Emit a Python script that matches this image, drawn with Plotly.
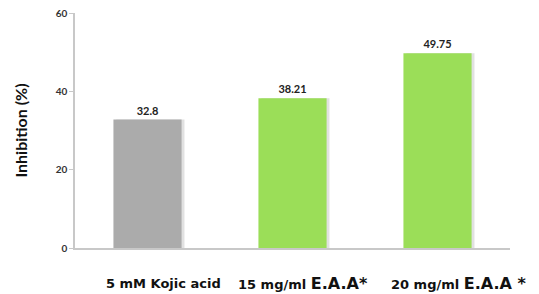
import plotly.graph_objects as go

categories = ["5 mM Kojic acid", "15 mg/ml E.A.A*", "20 mg/ml E.A.A *"]
values = [32.8, 38.21, 49.75]
value_labels = ["32.8", "38.21", "49.75"]
tick_vals = [0, 20, 40, 60]
colors = ["#ababab", "#9bde58", "#9bde58"]

tick_html = [
    "5 mM Kojic acid",
    "15 mg/ml <span style='font-size:16px'>E.A.A*</span>",
    "20 mg/ml <span style='font-size:16px'>E.A.A *</span>",
]
label_shifts = [16, 10, 21]

fig = go.Figure()
# soft shadow behind bars
fig.add_trace(go.Bar(
    x=categories, y=values, marker=dict(color="rgba(120,120,120,0.22)", line=dict(width=0)),
    width=0.47, offset=-0.235 + 0.02, hoverinfo="skip", showlegend=False,
))
fig.add_trace(go.Bar(
    x=categories, y=values, marker=dict(color=colors, line=dict(width=0)),
    width=0.47, offset=-0.235, text=value_labels, textposition="outside",
    textfont=dict(size=11, color="#222222", family="Lato", weight="bold"),
    cliponaxis=False, showlegend=False,
))

for c, t, s in zip(categories, tick_html, label_shifts):
    fig.add_annotation(x=c, y=0, yref="y", xref="x", text=t, showarrow=False,
                       yshift=-35, xshift=s,
                       font=dict(size=13, color="#111111", family="DejaVu Sans", weight="bold"))

fig.update_layout(
    width=539, height=294,
    margin=dict(l=75, r=29, t=13, b=46, autoexpand=False),
    plot_bgcolor="white", paper_bgcolor="white",
    barmode="overlay",
    xaxis=dict(showticklabels=False, showline=True, linecolor="#c8c8c8", linewidth=1.5,
               ticks="", showgrid=False, zeroline=False, automargin=False,
               range=[-0.5, len(categories) - 0.5]),
    yaxis=dict(range=[0, 60], tickvals=tick_vals, showline=True, linecolor="#c8c8c8",
               linewidth=1.5, ticks="outside", ticklen=4, tickcolor="#c8c8c8",
               showgrid=False, zeroline=False, automargin=False,
               tickfont=dict(size=10, color="#333333", family="Lato", weight="bold"),
               title=dict(text="Inhibition (%)", standoff=24,
                          font=dict(size=16, color="#111111", family="Lato", weight="bold"))),
)

fig.write_html("out.html", config={"displayModeBar": False},
               post_script="document.body.style.margin='0';")
